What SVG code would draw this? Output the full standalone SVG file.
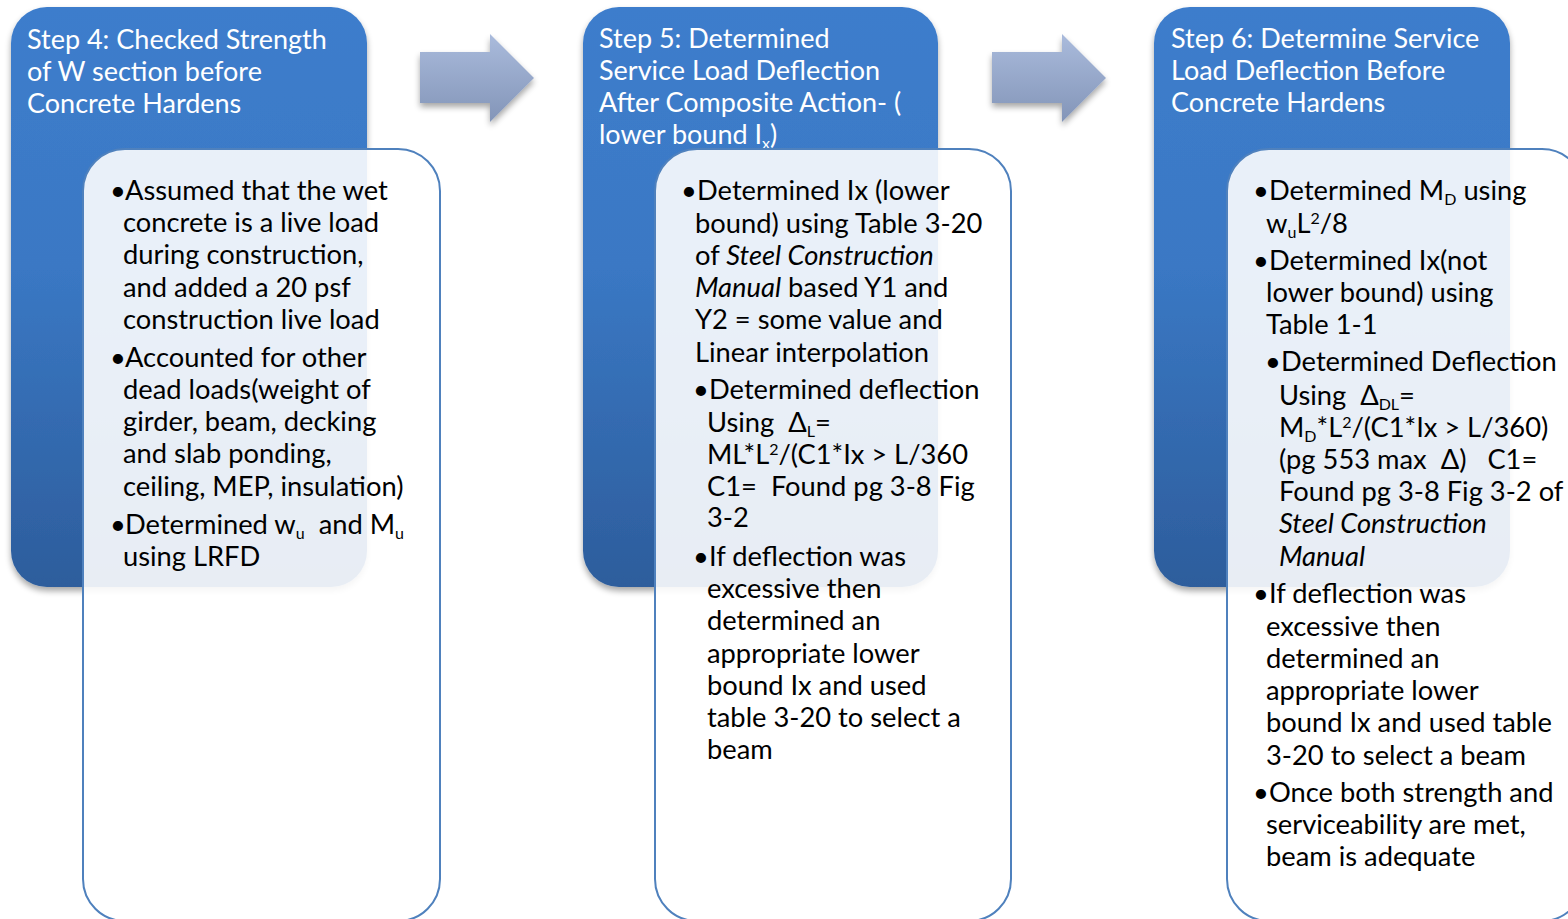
<svg xmlns="http://www.w3.org/2000/svg" width="1568" height="919" viewBox="0 0 1568 919">
<style>
text{white-space:pre}
.t{font-family:Lato,"Open Sans",sans-serif;font-size:27px;fill:#ffffff}
.b{font-family:Lato,"Open Sans",sans-serif;font-size:27.3px;fill:#000000}
.s{font-size:16px}
.i{font-style:italic}
.blue{fill:url(#gb);filter:url(#sh)}
.card{fill:#ffffff;fill-opacity:0.89;stroke:#4F81BD;stroke-width:2}
.arr{fill:url(#ga);filter:url(#sh)}
</style>
<defs>
<linearGradient id="gb" x1="0" y1="0" x2="0" y2="1">
<stop offset="0" stop-color="#3D7DCC"/>
<stop offset="0.45" stop-color="#3A78C4"/>
<stop offset="1" stop-color="#2D5D9C"/>
</linearGradient>
<linearGradient id="ga" x1="0" y1="0" x2="0" y2="1">
<stop offset="0" stop-color="#AABBDC"/>
<stop offset="1" stop-color="#8395B8"/>
</linearGradient>
<filter id="sh" x="-20%" y="-20%" width="140%" height="140%">
<feGaussianBlur in="SourceAlpha" stdDeviation="3"/>
<feOffset dx="0" dy="4" result="o"/>
<feComponentTransfer><feFuncA type="linear" slope="0.35"/></feComponentTransfer>
<feMerge><feMergeNode/><feMergeNode in="SourceGraphic"/></feMerge>
</filter>
</defs>
<rect width="1568" height="919" fill="#ffffff"/>

<g id="connectors">
<path class="arr" d="M420 52 H490 V34 L534 78 L490 122 V103 H420 Z"/>
<path class="arr" d="M992 52 H1062 V34 L1106 78 L1062 122 V103 H992 Z"/>
</g>

<g id="step4">
<rect class="blue" x="11" y="7" width="356" height="580" rx="36"/>
<text class="t" x="27" y="49">Step 4: Checked Strength</text>
<text class="t" x="27" y="81">of W section before</text>
<text class="t" x="27" y="113">Concrete Hardens</text>
<rect class="card" x="83" y="149" width="357" height="772" rx="42"/>
<text class="b" x="110" y="200">•</text>
<text class="b" x="125" y="200">Assumed that the wet</text>
<text class="b" x="123" y="232">concrete is a live load</text>
<text class="b" x="123" y="264">during construction,</text>
<text class="b" x="123" y="297">and added a 20 psf</text>
<text class="b" x="123" y="329">construction live load</text>
<text class="b" x="110" y="367">•</text>
<text class="b" x="125" y="367">Accounted for other</text>
<text class="b" x="123" y="399">dead loads(weight of</text>
<text class="b" x="123" y="431">girder, beam, decking</text>
<text class="b" x="123" y="463">and slab ponding,</text>
<text class="b" x="123" y="496">ceiling, MEP, insulation)</text>
<text class="b" x="110" y="534">•</text>
<text class="b" x="125" y="534">Determined w<tspan class="s" dy="5">u</tspan><tspan dy="-5">  and M</tspan><tspan class="s" dy="5">u</tspan></text>
<text class="b" x="123" y="566">using LRFD</text>
</g>

<g id="step5">
<rect class="blue" x="583" y="7" width="355" height="580" rx="36"/>
<text class="t" x="599" y="48">Step 5: Determined</text>
<text class="t" x="599" y="80">Service Load Deflection</text>
<text class="t" x="599" y="112">After Composite Action- (</text>
<text class="t" x="599" y="144">lower bound I<tspan class="s" dy="5">x</tspan><tspan dy="-5">)</tspan></text>
<rect class="card" x="655" y="149" width="356" height="772" rx="42"/>
<text class="b" x="681" y="200">•</text>
<text class="b" x="697" y="200">Determined Ix (lower</text>
<text class="b" x="695" y="233">bound) using Table 3-20</text>
<text class="b" x="695" y="265">of <tspan class="i">Steel Construction</tspan></text>
<text class="b" x="695" y="297"><tspan class="i">Manual</tspan> based Y1 and</text>
<text class="b" x="695" y="329">Y2 = some value and</text>
<text class="b" x="695" y="362">Linear interpolation</text>
<text class="b" x="693" y="399">•</text>
<text class="b" x="709" y="399">Determined deflection</text>
<text class="b" x="707" y="432">Using  Δ<tspan class="s" dy="5">L</tspan><tspan dy="-5">=</tspan></text>
<text class="b" x="707" y="464">ML*L<tspan class="s" dy="-9">2</tspan><tspan dy="9">/(C1*Ix &gt; L/360</tspan></text>
<text class="b" x="707" y="496">C1=  Found pg 3-8 Fig</text>
<text class="b" x="707" y="527">3-2</text>
<text class="b" x="693" y="566">•</text>
<text class="b" x="709" y="566">If deflection was</text>
<text class="b" x="707" y="598">excessive then</text>
<text class="b" x="707" y="630">determined an</text>
<text class="b" x="707" y="663">appropriate lower</text>
<text class="b" x="707" y="695">bound Ix and used</text>
<text class="b" x="707" y="727">table 3-20 to select a</text>
<text class="b" x="707" y="759">beam</text>
</g>

<g id="step6">
<rect class="blue" x="1154" y="7" width="356" height="580" rx="36"/>
<text class="t" x="1171" y="48">Step 6: Determine Service</text>
<text class="t" x="1171" y="80">Load Deflection Before</text>
<text class="t" x="1171" y="112">Concrete Hardens</text>
<rect class="card" x="1227" y="149" width="357" height="772" rx="42"/>
<text class="b" x="1253" y="200">•</text>
<text class="b" x="1269" y="200">Determined M<tspan class="s" dy="5">D</tspan><tspan dy="-5"> using</tspan></text>
<text class="b" x="1266" y="233">w<tspan class="s" dy="5">u</tspan><tspan dy="-5">L</tspan><tspan class="s" dy="-9">2</tspan><tspan dy="9">/8</tspan></text>
<text class="b" x="1253" y="270">•</text>
<text class="b" x="1269" y="270">Determined Ix(not</text>
<text class="b" x="1266" y="302">lower bound) using</text>
<text class="b" x="1266" y="334">Table 1-1</text>
<text class="b" x="1265" y="371">•</text>
<text class="b" x="1281" y="371">Determined Deflection</text>
<text class="b" x="1279" y="405">Using  Δ<tspan class="s" dy="5">DL</tspan><tspan dy="-5">=</tspan></text>
<text class="b" x="1279" y="437">M<tspan class="s" dy="5">D</tspan><tspan dy="-5">*L</tspan><tspan class="s" dy="-9">2</tspan><tspan dy="9">/(C1*Ix &gt; L/360)</tspan></text>
<text class="b" x="1279" y="469">(pg 553 max  Δ)   C1=</text>
<text class="b" x="1279" y="501">Found pg 3-8 Fig 3-2 of</text>
<text class="b i" x="1279" y="533">Steel Construction</text>
<text class="b i" x="1279" y="566">Manual</text>
<text class="b" x="1253" y="603">•</text>
<text class="b" x="1269" y="603">If deflection was</text>
<text class="b" x="1266" y="636">excessive then</text>
<text class="b" x="1266" y="668">determined an</text>
<text class="b" x="1266" y="700">appropriate lower</text>
<text class="b" x="1266" y="732">bound Ix and used table</text>
<text class="b" x="1266" y="765">3-20 to select a beam</text>
<text class="b" x="1253" y="802">•</text>
<text class="b" x="1269" y="802">Once both strength and</text>
<text class="b" x="1266" y="834">serviceability are met,</text>
<text class="b" x="1266" y="866">beam is adequate</text>
</g>
</svg>
